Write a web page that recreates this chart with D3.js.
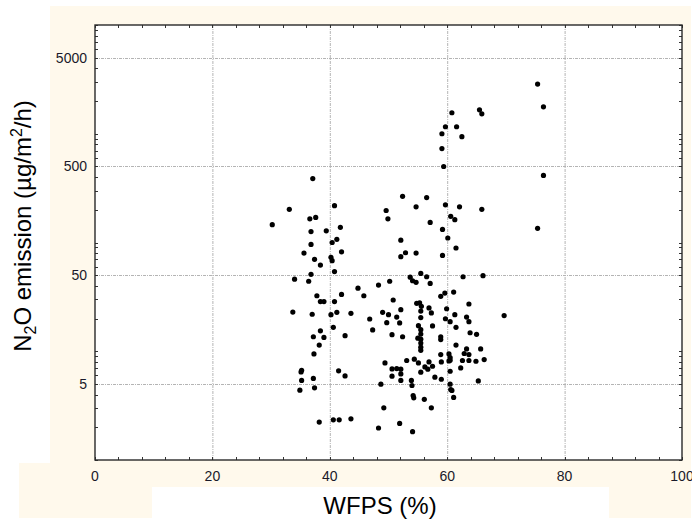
<!DOCTYPE html>
<html><head><meta charset="utf-8">
<script src="https://cdn.jsdelivr.net/npm/d3@7"></script>
<style>body{margin:0;background:#fff}svg{display:block}</style>
</head><body>
<script>
const wfps = [75.4,76.4,76.4,75.4,69.7,60.8,61.6,59.7,59.1,62.5,59.1,59.4,65.5,65.9,37.1,
30.2,33.1,36.6,37.6,40.8,36.8,39.4,41.8,36.8,41.2,40.4,35.6,42.0,37.4,40.2,40.4,38.4,40.8,36.8,34.0,36.4,
52.4,56.5,54.7,59.7,62.1,65.9,49.6,49.9,60.6,61.3,57.1,59.2,60.1,52.1,61.5,52.9,54.7,52.1,59.2,
55.5,53.7,56.5,54.1,54.7,57.1,50.2,62.7,66.1,44.8,48.3,45.8,37.8,38.4,39.0,40.8,42.0,50.8,58.9,59.6,61.1,63.7,
54.8,55.3,55.6,33.7,37.0,40.2,41.2,43.6,46.8,49.0,50.0,51.4,52.1,49.7,51.9,55.5,55.5,57.3,56.9,59.9,59.7,60.5,61.3,
63.3,63.7,61.5,40.6,38.4,37.2,39.0,42.6,47.3,50.6,52.4,55.1,55.5,55.5,55.0,57.5,58.9,63.9,65.0,
55.5,55.5,55.5,55.5,58.9,37.3,38.2,58.9,60.3,60.5,63.3,62.9,63.7,65.7,61.5,
49.4,53.1,54.4,55.1,56.9,56.2,56.7,57.5,59.0,60.3,60.5,62.6,63.7,64.9,66.3,62.3,60.5,
50.6,51.4,52.1,52.1,50.6,55.5,57.9,59.0,52.1,53.9,54.0,48.7,60.5,60.6,60.8,65.3,61.1,54.2,54.3,56.1,57.3,49.2,
51.9,48.3,54.1,38.2,40.6,41.6,43.6,35.1,35.2,35.2,34.9,37.2,37.4,41.5,42.6];
const n2o = [2860,1770,414,135,21.3,1560,1160,1160,1000,940,730,500,1660,1525,387,
146,202,165,170,218,126,128,138,96,107,100,80,82,70,73,68,62,54,51,46,44,
266,259,213,222,213,202,197,165,174,162,153,132,110,105,89,80.5,80,74,76,
52,48,48.4,44.5,43,42,44,48.4,49.5,38,40.6,32.4,32.4,28.6,28.6,28.6,33.3,29.6,32,34.3,35,27.2,
27.6,27.8,25.9,22.9,21.9,21.7,22.8,22.3,19.8,22.8,21.7,20.6,24.1,18.3,18.2,23.4,20.4,22.5,25,24.6,19.9,18.7,21.7,
20.6,18.7,16.6,16.6,15.4,13.6,13.4,13.9,15.7,14.2,13.6,17.2,15.8,14.4,13.2,17.1,13.6,14.8,14.3,
12.9,11.9,10.9,10.2,12.8,9.45,11.4,9.33,9.45,8.75,10.5,9.53,9.33,10.5,11.4,
7.81,8.22,8.45,7.81,7.98,7.18,6.84,7.28,7.98,8.15,8.27,8.22,8.22,8.09,8.39,7.03,6.55,
6.88,6.93,6.84,6.19,5.90,6.42,5.77,5.53,5.39,5.39,4.84,4.98,4.98,4.45,4.36,5.34,3.76,3.92,3.73,3.61,3.02,3.02,
2.17,1.97,1.82,2.23,2.34,2.34,2.39,6.46,6.69,5.39,4.39,5.62,4.61,6.60,5.93];
const xTicks = [0,20,40,60,80,100];
const yTicks = [5,50,500,5000];
const xDomain = [0,100];
const yDomain = [1,10000];

const W=692,H=521;
const L=95,R=682,T=25,B=460;
const svg=d3.select("body").append("svg").attr("width",W).attr("height",H);
svg.append("path").attr("fill","#fff9ec")
  .attr("d","M50,6H691V518H609V487H152V518H19V463H50Z");
const x=d3.scaleLinear().domain(xDomain).range([L,R]);
const y=d3.scaleLog().domain(yDomain).range([B,T]);
svg.append("rect").attr("x",L).attr("y",T).attr("width",R-L).attr("height",B-T).attr("fill","#fff");
const grid=svg.append("g").attr("stroke","#b4b4b4").attr("stroke-width",1).attr("stroke-dasharray","3,1,1,1");
grid.selectAll(".gx").data(xTicks.filter(d=>d>xDomain[0]&&d<xDomain[1])).join("line")
  .attr("x1",d=>x(d)+0.5).attr("x2",d=>x(d)+0.5).attr("y1",T).attr("y2",B);
grid.selectAll(".gy").data(yTicks).join("line")
  .attr("y1",d=>Math.round(y(d))+0.5).attr("y2",d=>Math.round(y(d))+0.5).attr("x1",L).attr("x2",R);
// minor ticks
const tk=svg.append("g").attr("stroke","#333").attr("stroke-width",1);
const ylog=y.ticks();
tk.selectAll(".yl").data(ylog).join("line").attr("x1",L).attr("x2",L+3)
  .attr("y1",d=>Math.round(y(d))+0.5).attr("y2",d=>Math.round(y(d))+0.5);
tk.selectAll(".yr").data(ylog).join("line").attr("x1",R).attr("x2",R-3)
  .attr("y1",d=>Math.round(y(d))+0.5).attr("y2",d=>Math.round(y(d))+0.5);
const xm=d3.range(0,101,4);
tk.selectAll(".xb").data(xm).join("line").attr("y1",B).attr("y2",B-3)
  .attr("x1",d=>Math.round(x(d))+0.5).attr("x2",d=>Math.round(x(d))+0.5);
tk.selectAll(".xt").data(xm).join("line").attr("y1",T).attr("y2",T+3)
  .attr("x1",d=>Math.round(x(d))+0.5).attr("x2",d=>Math.round(x(d))+0.5);
svg.append("rect").attr("x",L).attr("y",T).attr("width",R-L).attr("height",B-T)
  .attr("fill","none").attr("stroke","#2a2a2a").attr("stroke-width",1.4);
// dots
svg.append("g").selectAll("circle").data(wfps.map((d,i)=>[d,n2o[i]])).join("circle")
  .attr("cx",d=>x(d[0])).attr("cy",d=>y(d[1])).attr("r",2.6).attr("fill","#000");
// labels
const f="Arial, 'Liberation Sans', sans-serif";
svg.append("g").selectAll("text").data(xTicks).join("text")
  .attr("x",d=>x(d)).attr("y",B+21).attr("text-anchor","middle")
  .attr("font-family",f).attr("font-size",14).attr("fill","#1a1a2a").text(d=>d);
svg.append("g").selectAll("text").data(yTicks).join("text")
  .attr("x",L-8).attr("y",d=>y(d)+5).attr("text-anchor","end")
  .attr("font-family",f).attr("font-size",14).attr("fill","#1a1a2a").text(d=>d);
svg.append("text").attr("x",380).attr("y",514).attr("text-anchor","middle")
  .attr("font-family",f).attr("font-size",24).attr("fill","#000").text("WFPS (%)");
const yt=svg.append("text").attr("transform","translate(31,226) rotate(-90)")
  .attr("text-anchor","middle").attr("font-family",f).attr("font-size",24).attr("fill","#000");
yt.append("tspan").text("N");
yt.append("tspan").attr("font-size",16).attr("dy",5).text("2");
yt.append("tspan").attr("dy",-5).text("O emission (µg/m");
yt.append("tspan").attr("font-size",16).attr("dy",-9).text("2");
yt.append("tspan").attr("dy",9).text("/h)");
</script>
</body></html>
